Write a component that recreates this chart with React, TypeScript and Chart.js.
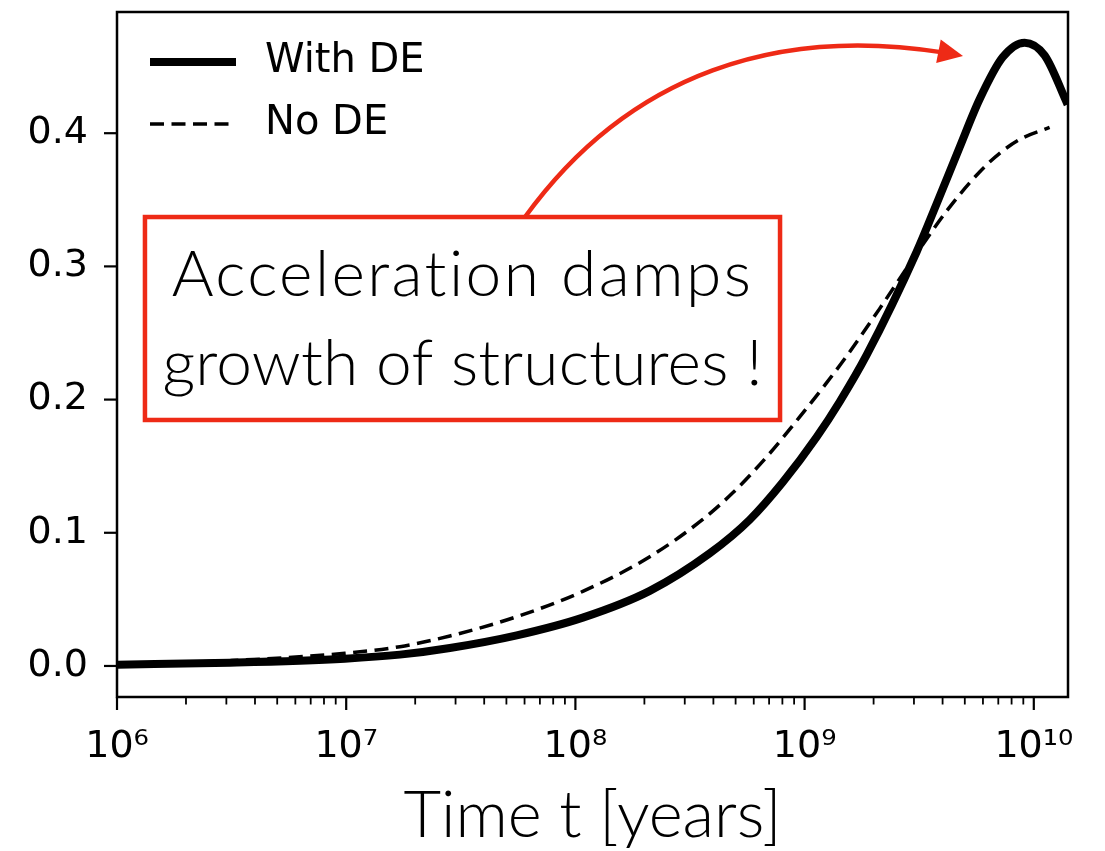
import React, { useEffect, useRef } from "react";
import { Chart, registerables } from "chart.js";

Chart.register(...registerables);

// ---- data ----
const withDETime = [1e6, 3.11e6, 9.87e6, 1.715e7, 2.834e7, 5.55e7, 1.077e8, 2.111e8, 3.857e8, 5.763e8, 8.027e8, 1.129e9, 1.423e9, 1.866e9, 3.083e9, 3.768e9, 4.748e9, 5.801e9, 7.31e9, 9.117e9, 1.115e10, 1.404e10];
const withDEGrowth = [0.001, 0.0025, 0.0055, 0.0085, 0.0135, 0.023, 0.0363, 0.0564, 0.0846, 0.1098, 0.1379, 0.1719, 0.1984, 0.2335, 0.311, 0.347, 0.3895, 0.4255, 0.457, 0.468, 0.4584, 0.4216];
const noDETime = [1e6, 3.11e6, 9.87e6, 1.715e7, 2.834e7, 5.55e7, 1.077e8, 2.111e8, 3.594e8, 4.86e8, 6.834e8, 9.52e8, 1.249e9, 1.526e9, 2.126e9, 3.083e9, 4.294e9, 5.801e9, 7.094e9, 8.676e9, 1.172e10];
const noDEGrowth = [0.001, 0.004, 0.0095, 0.0145, 0.0225, 0.037, 0.056, 0.082, 0.110, 0.130, 0.157, 0.187, 0.2127, 0.2327, 0.2683, 0.3098, 0.3445, 0.3709, 0.3849, 0.3953, 0.4043];
const seriesLabels = ["With DE", "No DE"];
const yTickValues = [0.0, 0.1, 0.2, 0.3, 0.4];
const xDecades = [1e6, 1e7, 1e8, 1e9, 1e10];
const noteLines = ["Acceleration damps", "growth of structures !"];
const xTitle = "Time t [years]";

const X_MIN = 1e6;
const X_MAX = 1.41e10;
const Y_MIN = -0.0233;
const Y_MAX = 0.491;

const RED = "#ee2a16";
const TICK_FONT = "DejaVu Sans";
const NOTE_FONT = "Lato";

const SUP: Record<string, string> = {
  "0": "\u2070", "1": "\u00b9", "2": "\u00b2", "3": "\u00b3", "4": "\u2074",
  "5": "\u2075", "6": "\u2076", "7": "\u2077", "8": "\u2078", "9": "\u2079",
};
function decadeLabel(v: number): string {
  const e = Math.round(Math.log10(v));
  return "10" + String(e).split("").map((c) => SUP[c]).join("");
}

// annotation geometry in axes fractions (0..1 from left/top of plot area)
const noteBox = { x0: 0.0294, y0: 0.2993, x1: 0.6972, y1: 0.5956 };
const arrowStart = [0.429, 0.2993];
const arrowCtrl1 = [0.5447, 0.0774];
const arrowCtrl2 = [0.7108, 0.0161];
const arrowTip = [0.8896, 0.0642];
const noteSpacing = ["2.4px", "0.2px"];

function zeroPadding(s: any) {
  s.paddingTop = 0;
  s.paddingBottom = 0;
  s.paddingLeft = 0;
  s.paddingRight = 0;
}

type P = [number, number];
const lerp = (a: P, b: P, t: number): P => [a[0] + (b[0] - a[0]) * t, a[1] + (b[1] - a[1]) * t];

const framePlugin = {
  id: "frameAndTicks",
  afterDraw(chart: any) {
    const { ctx, chartArea: a } = chart;
    const xs = chart.scales.x;
    const ys = chart.scales.y;
    ctx.save();
    ctx.strokeStyle = "#000";
    // x minor/major ticks
    for (let e = 6; e <= 10; e++) {
      for (let m = 1; m <= 9; m++) {
        const v = m * Math.pow(10, e);
        if (v < X_MIN * 0.9999 || v > X_MAX) continue;
        const px = xs.getPixelForValue(v);
        ctx.lineWidth = m === 1 ? 2.2 : 1.8;
        ctx.beginPath();
        ctx.moveTo(px, a.bottom);
        ctx.lineTo(px, a.bottom + (m === 1 ? 13 : 7.5));
        ctx.stroke();
      }
    }
    // y ticks
    ctx.lineWidth = 2.2;
    for (const v of yTickValues) {
      const py = ys.getPixelForValue(v);
      ctx.beginPath();
      ctx.moveTo(a.left - 13, py);
      ctx.lineTo(a.left, py);
      ctx.stroke();
    }
    // frame
    ctx.lineWidth = 2.5;
    ctx.strokeRect(a.left, a.top, a.right - a.left, a.bottom - a.top);

    // legend
    const dss = chart.data.datasets;
    const rows = [a.top + 50, a.top + 112];
    dss.forEach((ds: any, i: number) => {
      ctx.beginPath();
      ctx.lineWidth = ds.borderWidth;
      ctx.setLineDash(ds.borderDash || []);
      ctx.lineCap = "butt";
      ctx.moveTo(a.left + 33, rows[i]);
      ctx.lineTo(a.left + 119, rows[i]);
      ctx.stroke();
      ctx.setLineDash([]);
      ctx.fillStyle = "#000";
      ctx.font = `40px "${TICK_FONT}"`;
      ctx.textAlign = "left";
      ctx.textBaseline = "middle";
      ctx.fillText(ds.label, a.left + 148, rows[i]);
    });

    // annotation box
    const W = a.right - a.left;
    const H = a.bottom - a.top;
    const fp = (f: number[]): P => [a.left + f[0] * W, a.top + f[1] * H];
    const b0 = fp([noteBox.x0, noteBox.y0]);
    const b1 = fp([noteBox.x1, noteBox.y1]);
    ctx.strokeStyle = RED;
    ctx.fillStyle = RED;
    ctx.lineWidth = 4.5;
    ctx.strokeRect(b0[0], b0[1], b1[0] - b0[0], b1[1] - b0[1]);

    // curved arrow (cubic bezier, stopped short of the head)
    const p0 = fp(arrowStart), p1 = fp(arrowCtrl1), p2 = fp(arrowCtrl2), p3 = fp(arrowTip);
    const ts = 0.96;
    const q1 = lerp(p0, p1, ts);
    const r = lerp(p1, p2, ts);
    const s2 = lerp(p2, p3, ts);
    const q2 = lerp(q1, r, ts);
    const r2 = lerp(r, s2, ts);
    const q3 = lerp(q2, r2, ts);
    ctx.lineWidth = 4.5;
    ctx.lineCap = "butt";
    ctx.beginPath();
    ctx.moveTo(p0[0], p0[1]);
    ctx.bezierCurveTo(q1[0], q1[1], q2[0], q2[1], q3[0], q3[1]);
    ctx.stroke();
    const dx = p3[0] - p2[0];
    const dy = p3[1] - p2[1];
    const len = Math.hypot(dx, dy);
    const ux = dx / len, uy = dy / len;
    const bx = p3[0] - ux * 25, by = p3[1] - uy * 25;
    ctx.beginPath();
    ctx.moveTo(p3[0], p3[1]);
    ctx.lineTo(bx - uy * 12, by + ux * 12);
    ctx.lineTo(bx + uy * 12, by - ux * 12);
    ctx.closePath();
    ctx.fill();

    // note text
    ctx.fillStyle = "#000";
    ctx.font = `300 64px "${NOTE_FONT}"`;
    ctx.textAlign = "center";
    ctx.textBaseline = "alphabetic";
    const cx = (b0[0] + b1[0]) / 2;
    const offs = [79, 168];
    noteLines.forEach((line, i) => {
      try { (ctx as any).letterSpacing = noteSpacing[i]; } catch (e) { /* ignore */ }
      ctx.fillText(line, cx, b0[1] + offs[i]);
    });
    try { (ctx as any).letterSpacing = "0px"; } catch (e) { /* ignore */ }
    ctx.restore();
  },
};

export default function App() {
  const ref = useRef<HTMLCanvasElement | null>(null);
  useEffect(() => {
    if (!ref.current) return;
    const chart = new Chart(ref.current, {
      type: "line",
      data: {
        datasets: [
          {
            label: seriesLabels[0],
            data: withDETime.map((t, i) => ({ x: t, y: withDEGrowth[i] })),
            borderColor: "#000",
            borderWidth: 8,
            pointRadius: 0,
            cubicInterpolationMode: "monotone",
            borderJoinStyle: "round",
            fill: false,
            clip: 0,
            order: 1,
          },
          {
            label: seriesLabels[1],
            data: noDETime.map((t, i) => ({ x: t, y: noDEGrowth[i] })),
            borderColor: "#000",
            borderWidth: 3.5,
            borderDash: [14, 7.5],
            pointRadius: 0,
            cubicInterpolationMode: "monotone",
            fill: false,
            clip: 0,
            order: 0,
          },
        ],
      } as any,
      options: {
        animation: false,
        responsive: false,
        devicePixelRatio: 1,
        layout: { autoPadding: false, padding: { top: 12, right: 37, left: 0, bottom: 0 } },
        plugins: { legend: { display: false }, tooltip: { enabled: false } },
        scales: {
          x: {
            type: "logarithmic",
            min: X_MIN,
            max: X_MAX,
            grid: { display: false, drawTicks: false },
            border: { display: false },
            afterBuildTicks: (s: any) => {
              s.ticks = xDecades.map((v) => ({ value: v, major: true }));
            },
            afterFit: (s: any) => {
              s.height = 154;
              zeroPadding(s);
            },
            ticks: {
              autoSkip: false,
              maxRotation: 0,
              padding: 27,
              color: "#000",
              font: { family: TICK_FONT, size: 38 },
              callback: (v: any) => decadeLabel(Number(v)),
            },
            title: {
              display: true,
              text: xTitle,
              color: "#000",
              font: { family: NOTE_FONT, size: 65, weight: "300", lineHeight: 1.0 },
              padding: { top: 0, bottom: 2 },
            },
          },
          y: {
            type: "linear",
            min: Y_MIN,
            max: Y_MAX,
            grid: { display: false, drawTicks: false },
            border: { display: false },
            afterBuildTicks: (s: any) => {
              s.ticks = yTickValues.map((v) => ({ value: v }));
            },
            afterFit: (s: any) => {
              s.width = 117;
              zeroPadding(s);
            },
            ticks: {
              padding: 29,
              color: "#000",
              font: { family: TICK_FONT, size: 38 },
              callback: (v: any) => Number(v).toFixed(1),
            },
          },
        },
      } as any,
      plugins: [framePlugin],
    });
    return () => chart.destroy();
  }, []);
  return (
    <div style={{ position: "absolute", left: 0, top: 0, width: 1105, height: 851, background: "#fff" }}>
      <canvas ref={ref} width={1105} height={851} style={{ display: "block" }} />
    </div>
  );
}
